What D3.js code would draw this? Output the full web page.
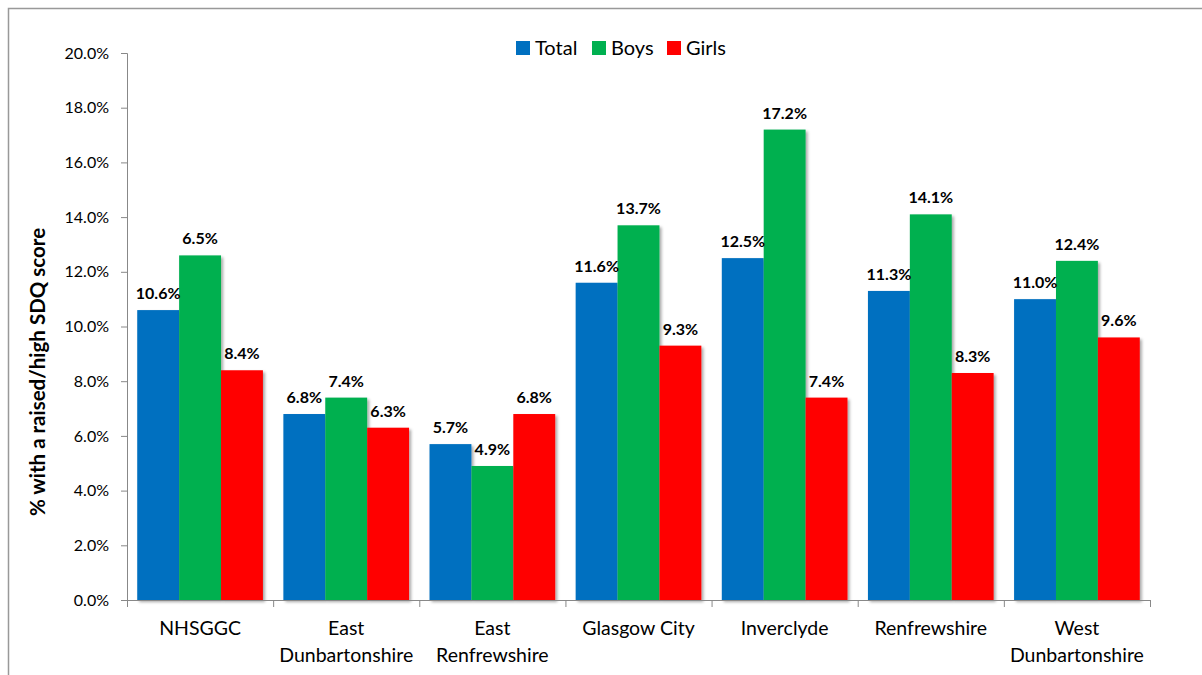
<!DOCTYPE html>
<html><head><meta charset="utf-8">
<script src="https://cdn.jsdelivr.net/npm/d3@7"></script>
<style>body{margin:0;background:#fff}svg{display:block;font-family:Lato,"Open Sans",sans-serif}</style>
</head><body><svg id="c" width="1202" height="675"></svg>
<script>
const categories = [["NHSGGC"],["East","Dunbartonshire"],["East","Renfrewshire"],["Glasgow City"],["Inverclyde"],["Renfrewshire"],["West","Dunbartonshire"]];
const seriesNames = ["Total","Boys","Girls"];
const seriesColors = ["#0070C0","#00B050","#FF0000"];
const totalValues = [10.6, 6.8, 5.7, 11.6, 12.5, 11.3, 11.0];
const boysValues  = [12.6, 7.4, 4.9, 13.7, 17.2, 14.1, 12.4];
const girlsValues = [8.4, 6.3, 6.8, 9.3, 7.4, 8.3, 9.6];
const totalLabels = ["10.6%","6.8%","5.7%","11.6%","12.5%","11.3%","11.0%"];
const boysLabels  = ["6.5%","7.4%","4.9%","13.7%","17.2%","14.1%","12.4%"];
const girlsLabels = ["8.4%","6.3%","6.8%","9.3%","7.4%","8.3%","9.6%"];
const yTicks = [0,2,4,6,8,10,12,14,16,18,20];

const values = [totalValues, boysValues, girlsValues];
const labels = [totalLabels, boysLabels, girlsLabels];

const svg = d3.select("#c");
const defs = svg.append("defs");
const f = defs.append("filter").attr("id","sh").attr("x","-10%").attr("y","-10%").attr("width","130%").attr("height","130%");
f.append("feDropShadow").attr("dx",2).attr("dy",2).attr("stdDeviation",1.5).attr("flood-color","#000").attr("flood-opacity",0.35);

// outer frame
svg.append("rect").attr("x",8.5).attr("y",8.5).attr("width",1300).attr("height",800)
  .attr("fill","none").attr("stroke","#999").attr("stroke-width",1.5);

const L=127, R=1150, T=53, B=600;
const x0 = d3.scaleBand().domain(d3.range(categories.length)).range([L,R]).paddingInner(0.14).paddingOuter(0.07);
const x1 = d3.scaleBand().domain(d3.range(seriesNames.length)).range([0,x0.bandwidth()]);
const y = d3.scaleLinear().domain([0,20]).range([B,T]);

// y axis
const ya = svg.append("g").attr("transform",`translate(${L},0)`)
  .call(d3.axisLeft(y).tickValues(yTicks).tickFormat(d=>d.toFixed(1)+"%").tickSizeOuter(0).tickSize(6).tickPadding(12));
ya.select(".domain").attr("stroke","#888");
ya.selectAll(".tick line").attr("stroke","#888");
ya.selectAll(".tick text").attr("font-size",16).attr("fill","#000").attr("font-family","Lato,sans-serif");

// bars
const gs = svg.append("g").selectAll("g").data(categories).join("g")
  .attr("transform",(d,i)=>`translate(${x0(i)},0)`);
gs.each(function(c,i){
  const g = d3.select(this);
  seriesNames.forEach((s,j)=>{
    g.append("rect").attr("x",x1(j)).attr("width",x1.bandwidth())
      .attr("y",y(values[j][i])).attr("height",B-y(values[j][i]))
      .attr("fill",seriesColors[j]).attr("filter","url(#sh)");
  });
});
gs.each(function(c,i){
  const g = d3.select(this);
  seriesNames.forEach((s,j)=>{
    g.append("text").attr("x",x1(j)+x1.bandwidth()/2).attr("y",y(values[j][i])-11)
      .attr("text-anchor","middle").attr("font-size",16).attr("font-weight","bold")
      .attr("fill","#000").text(labels[j][i]);
  });
});

// x axis
const bounds = d3.range(categories.length+1).map(i=>L+i*(R-L)/categories.length);
const xa = svg.append("g");
xa.append("line").attr("x1",L).attr("x2",R).attr("y1",B+0.5).attr("y2",B+0.5).attr("stroke","#888");
xa.selectAll("line.t").data(bounds).join("line").attr("class","t")
  .attr("x1",d=>d+0.5).attr("x2",d=>d+0.5).attr("y1",B).attr("y2",B+7).attr("stroke","#888");
const cl = svg.append("g").selectAll("text").data(categories).join("text")
  .attr("x",(d,i)=>x0(i)+x0.bandwidth()/2).attr("y",635)
  .attr("text-anchor","middle").attr("font-size",19.5).attr("fill","#000");
cl.each(function(d){
  const t=d3.select(this);
  d.forEach((line,k)=>t.append("tspan").attr("x",t.attr("x")).attr("dy",k?27:0).text(line));
});

// y title
svg.append("text").attr("transform","translate(45,372) rotate(-90)").attr("text-anchor","middle")
  .attr("font-size",20.5).attr("font-weight","bold").attr("fill","#000").text("% with a raised/high SDQ score");

// legend
const legX=[516,592,667];
const lg = svg.append("g").selectAll("g").data(seriesNames).join("g")
  .attr("transform",(d,i)=>`translate(${legX[i]},41)`);
lg.append("rect").attr("width",14).attr("height",14).attr("fill",(d,i)=>seriesColors[i]);
lg.append("text").attr("x",19).attr("y",14).attr("font-size",20).attr("fill","#000").text(d=>d);
</script></body></html>
